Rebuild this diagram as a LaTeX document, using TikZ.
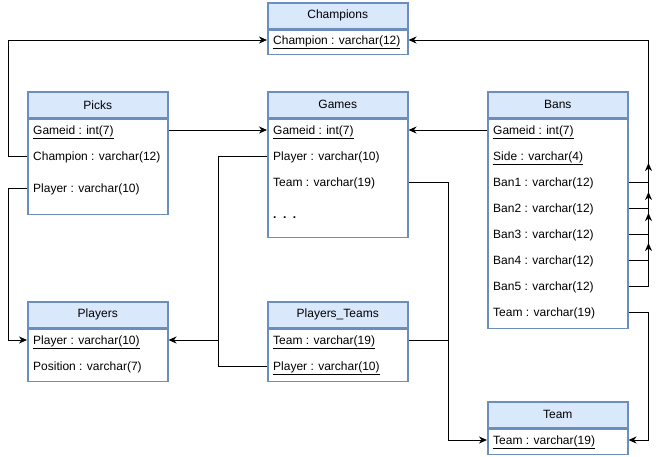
\documentclass[tikz,border=0pt]{standalone}
\usepackage{fontspec}
\setmainfont{Liberation Sans}
\usepackage{xcolor}
\usetikzlibrary{positioning}
\usetikzlibrary{arrows.meta}

\definecolor{tabfill}{HTML}{DAE8FC}
\definecolor{tabborder}{HTML}{6C8EBF}

\tikzset{
  tabhead/.style={draw=tabborder, fill=tabfill, line width=1.5pt, minimum width=140pt,
    minimum height=26pt, inner sep=0pt, anchor=north west, font=\fontsize{12}{14}\selectfont},
  tabbody/.style={draw=tabborder, fill=white, line width=1.5pt, minimum width=140pt,
    inner sep=0pt, below=0pt of #1},
  field/.style={anchor=west, inner sep=0pt, text height=10pt, text depth=2pt,
    font=\fontsize{12}{14}\selectfont},
  link/.style={draw, line width=1pt, -{Stealth[length=8pt,width=7pt,inset=2.5pt]}},
  plain/.style={draw, line width=1pt}
}

\begin{document}
\begin{tikzpicture}[x=1pt,y=-1pt]
  \useasboundingbox (0,0) rectangle (656,456);

  % tables
  \node[tabhead] (champions) at (267,2) {Champions};
  \node[tabbody=champions, minimum height=24pt] (champions-body) {};
  \node[field] (champions-champion) at (273,40) {\underline{Champion : varchar(12)}};

  \node[tabhead] (picks) at (27,91) {Picks};
  \node[tabbody=picks, minimum height=95pt] (picks-body) {};
  \node[field] (picks-gameid) at (33,130) {\underline{Gameid : int(7)}};
  \node[field] (picks-champion) at (33,156) {Champion : varchar(12)};
  \node[field] (picks-player) at (33,188) {Player : varchar(10)};

  \node[tabhead] (games) at (267,91) {Games};
  \node[tabbody=games, minimum height=118pt] (games-body) {};
  \node[field] (games-gameid) at (273,130) {\underline{Gameid : int(7)}};
  \node[field] (games-player) at (273,156) {Player : varchar(10)};
  \node[field] (games-team) at (273,182) {Team : varchar(19)};
  \node[field] (games-more) at (273,214) {\textbf{.\hspace{6.5pt}.\hspace{6.5pt}.}};

  \node[tabhead] (bans) at (487,91) {Bans};
  \node[tabbody=bans, minimum height=209pt] (bans-body) {};
  \node[field] (bans-gameid) at (493,130) {\underline{Gameid : int(7)}};
  \node[field] (bans-side) at (493,156) {\underline{Side : varchar(4)}};
  \foreach \k in {1,...,5}
    \node[field] (bans-ban\k) at (493,156+26*\k) {Ban\k\ : varchar(12)};
  \node[field] (bans-team) at (493,312) {Team : varchar(19)};

  \node[tabhead] (players) at (27,301) {Players};
  \node[tabbody=players, minimum height=52pt] (players-body) {};
  \node[field] (players-player) at (33,340) {\underline{Player : varchar(10)}};
  \node[field] (players-position) at (33,366) {Position : varchar(7)};

  \node[tabhead] (pteams) at (267,301) {Players\_Teams};
  \node[tabbody=pteams, minimum height=52pt] (pteams-body) {};
  \node[field] (pteams-team) at (273,340) {\underline{Team : varchar(19)}};
  \node[field] (pteams-player) at (273,366) {\underline{Player : varchar(10)}};

  \node[tabhead] (team) at (487,401) {Team};
  \node[tabbody=team, minimum height=25pt] (team-body) {};
  \node[field] (team-team) at (493,440) {\underline{Team : varchar(19)}};

  % foreign keys
  \draw[link] (picks-body.west |- picks-champion) -- ++(-19,0) |- (champions-body.west |- champions-champion);
  \draw[link] (picks-body.east |- picks-gameid) -- (games-body.west |- games-gameid);
  \draw[link] (picks-body.west |- picks-player) -- ++(-19,0) |- (players-body.west |- players-player);
  \draw[link] (games-body.west |- games-player) -- ++(-49,0) |- (players-body.east |- players-player);
  \draw[plain] (pteams-body.west |- pteams-player) -- ++(-49,0) -- ++(0,-26);
  \draw[link] (games-body.east |- games-team) -- ++(40,0) |- (team-body.west |- team-team);
  \draw[plain] (pteams-body.east |- pteams-team) -- ++(40,0);
  \draw[link] (bans-body.west |- bans-gameid) -- (games-body.east |- games-gameid);
  \draw[link] (bans-body.east |- bans-ban1) -- ++(20,0) |- (champions-body.east |- champions-champion);
  \foreach \k/\up in {2/45,3/42,4/47,5/43}
    \draw[link] (bans-body.east |- bans-ban\k) -- ++(20,0) -- ++(0,-\up);
  \draw[link] (bans-body.east |- bans-team) -- ++(20,0) |- (team-body.east |- team-team);
\end{tikzpicture}
\end{document}
